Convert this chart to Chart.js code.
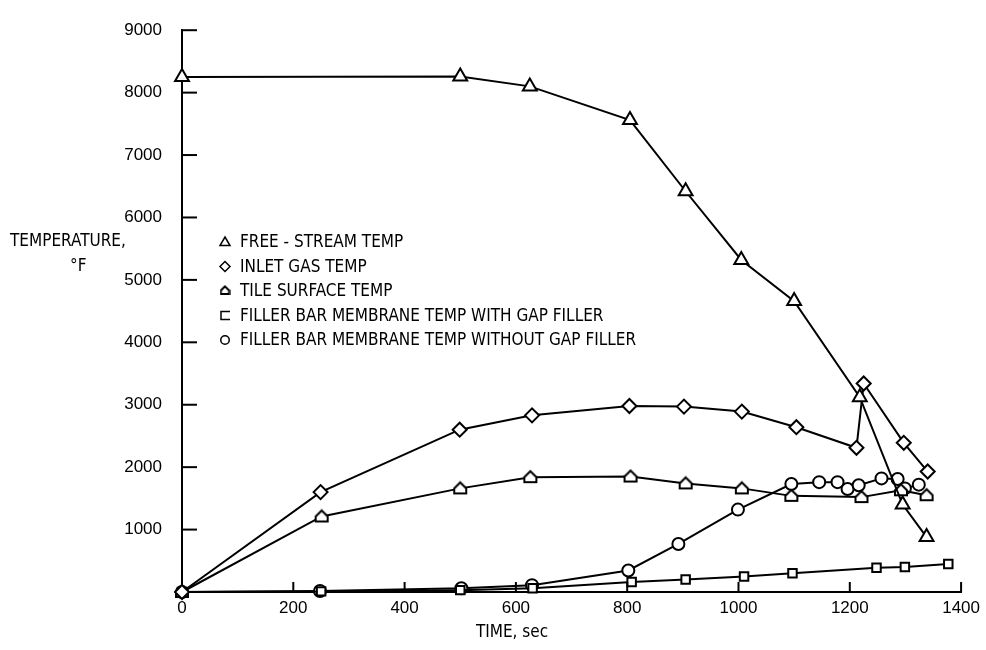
<!DOCTYPE html>
<html>
<head>
<meta charset="utf-8">
<script src="https://cdn.jsdelivr.net/npm/chart.js@4/dist/chart.umd.min.js"></script>
<style>
  html, body { margin: 0; padding: 0; background: #fff; }
  #wrap { width: 986px; height: 650px; }
</style>
</head>
<body>
<div id="wrap"><canvas id="chart" width="986" height="650"></canvas></div>
<script>
// time, sec and temperature, deg F
const freeTime = [0, 500, 625, 805, 905, 1005, 1100, 1218, 1295, 1338];
const freeTemp = [8250, 8260, 8100, 7560, 6420, 5320, 4660, 3120, 1400, 880];

const inletTime = [0, 249, 499, 629, 804, 902, 1006, 1104, 1212, 1225, 1297, 1340];
const inletTemp = [0, 1600, 2600, 2830, 2980, 2970, 2890, 2640, 2310, 3340, 2390, 1930];

const tileTime = [0, 251, 500, 626, 806, 905, 1006, 1095, 1221, 1292, 1338];
const tileTemp = [0, 1210, 1660, 1840, 1850, 1740, 1660, 1540, 1520, 1630, 1550];

const withTime = [0, 250, 500, 630, 808, 905, 1010, 1097, 1248, 1299, 1377];
const withTemp = [0, 10, 30, 60, 160, 200, 250, 300, 390, 400, 450];

const withoutTime = [0, 248, 502, 629, 802, 892, 999, 1095, 1145, 1178, 1196, 1216, 1257, 1286, 1299, 1324];
const withoutTemp = [0, 15, 60, 110, 345, 770, 1320, 1730, 1760, 1760, 1650, 1710, 1820, 1810, 1660, 1720];

const seriesNames = [
    'FREE - STREAM TEMP',
    'INLET GAS TEMP',
    'TILE SURFACE TEMP',
    'FILLER BAR MEMBRANE TEMP WITH GAP FILLER',
    'FILLER BAR MEMBRANE TEMP WITHOUT GAP FILLER'
];

const xTicks = [200, 400, 600, 800, 1000, 1200, 1400];
const yTicks = [1000, 2000, 3000, 4000, 5000, 6000, 7000, 8000, 9000];

const narrow = "'Liberation Sans Narrow', 'DejaVu Sans Condensed', sans-serif";

// little house shaped marker for the tile surface curve
function houseMarker(size) {
    const c = document.createElement('canvas');
    c.width = size; c.height = size;
    const g = c.getContext('2d');
    const m = size / 16;
    g.beginPath();
    g.moveTo(8 * m, 2 * m);
    g.lineTo(14 * m, 8 * m);
    g.lineTo(14 * m, 13 * m);
    g.lineTo(2 * m, 13 * m);
    g.lineTo(2 * m, 8 * m);
    g.closePath();
    g.fillStyle = '#fff';
    g.fill();
    g.lineWidth = 2;
    g.strokeStyle = '#000';
    g.stroke();
    return c;
}

function pts(xs, ys) {
    return xs.map((t, i) => ({x: t, y: ys[i]}));
}

function series(name, xs, ys, style, radius) {
    return {
        label: name,
        data: pts(xs, ys),
        borderColor: '#000',
        borderWidth: 2,
        pointStyle: style,
        pointRadius: radius,
        pointBorderWidth: 2,
        pointBackgroundColor: '#fff',
        pointBorderColor: '#000',
        tension: 0,
        clip: false
    };
}

const tileIcon = houseMarker(16);
const tileIconSmall = houseMarker(11);

function drawMarker(ctx, style, cx, cy, r) {
    ctx.beginPath();
    if (style === 'triangle') {
        ctx.moveTo(cx, cy - r);
        ctx.lineTo(cx + r, cy + r * 0.7);
        ctx.lineTo(cx - r, cy + r * 0.7);
        ctx.closePath();
    } else if (style === 'rectRot') {
        ctx.moveTo(cx, cy - r);
        ctx.lineTo(cx + r, cy);
        ctx.lineTo(cx, cy + r);
        ctx.lineTo(cx - r, cy);
        ctx.closePath();
    } else if (style === 'rect') {
        ctx.moveTo(cx + r, cy - r * 0.8);
        ctx.lineTo(cx - r * 0.8, cy - r * 0.8);
        ctx.lineTo(cx - r * 0.8, cy + r * 0.8);
        ctx.lineTo(cx + r, cy + r * 0.8);
    } else if (style === 'circle') {
        ctx.arc(cx, cy, r * 0.85, 0, Math.PI * 2);
    } else {
        ctx.drawImage(tileIconSmall, cx - 5.5, cy - 6);
        return;
    }
    ctx.stroke();
}

const overlay = {
    id: 'overlay',
    afterDraw(chart) {
        const ctx = chart.ctx;
        const x = chart.scales.x, y = chart.scales.y;
        ctx.save();
        ctx.strokeStyle = '#000';
        ctx.lineWidth = 2;

        // tick marks pointing into the plot
        yTicks.forEach(v => {
            const py = y.getPixelForValue(v);
            ctx.beginPath();
            ctx.moveTo(x.left, py);
            ctx.lineTo(x.left + 15, py);
            ctx.stroke();
        });
        xTicks.forEach(v => {
            const px = x.getPixelForValue(v);
            ctx.beginPath();
            ctx.moveTo(px, y.bottom);
            ctx.lineTo(px, y.bottom - 10);
            ctx.stroke();
        });

        ctx.fillStyle = '#000';
        ctx.font = '17px ' + narrow;
        ctx.textBaseline = 'middle';

        // y axis title, written flat
        ctx.textAlign = 'left';
        ctx.fillText('TEMPERATURE,', 10, 242);
        ctx.fillText('\u00B0F', 70, 267);

        // x axis title
        ctx.textAlign = 'center';
        ctx.fillText('TIME, sec', 512, 633);

        // legend inside the plot
        ctx.textAlign = 'left';
        ctx.lineWidth = 1.5;
        const styles = ['triangle', 'rectRot', 'house', 'rect', 'circle'];
        seriesNames.forEach((name, i) => {
            const ly = 242 + i * 24.5;
            drawMarker(ctx, styles[i], 225, ly, 5);
            ctx.fillText(name, 240, ly + 1);
        });
        ctx.restore();
    }
};

const data = {
    datasets: [
        series(seriesNames[0], freeTime, freeTemp, 'triangle', 8),
        series(seriesNames[1], inletTime, inletTemp, 'rectRot', 7),
        series(seriesNames[2], tileTime, tileTemp, tileIcon, 8),
        series(seriesNames[3], withTime, withTemp, 'rect', 6),
        series(seriesNames[4], withoutTime, withoutTemp, 'circle', 6)
    ]
};

const config = {
    type: 'line',
    data: data,
    options: {
        responsive: false,
        animation: false,
        layout: {
            padding: {top: 19, right: 23, left: 0, bottom: 0}
        },
        plugins: {
            legend: {display: false},
            tooltip: {enabled: false}
        },
        scales: {
            x: {
                type: 'linear',
                min: 0,
                max: 1400,
                grid: {display: false, drawTicks: false},
                border: {display: true, color: '#000', width: 2},
                ticks: {
                    stepSize: 200,
                    padding: 6,
                    color: '#000',
                    maxRotation: 0,
                    font: {family: "'Liberation Sans', Arial, sans-serif", size: 17},
                    callback: function(v) {
                        return String(v);
                    }
                },
                afterFit: function(scale) {
                    scale.height = 58;
                }
            },
            y: {
                min: 0,
                max: 9000,
                grid: {display: false, drawTicks: false},
                border: {display: true, color: '#000', width: 2},
                ticks: {
                    stepSize: 1000,
                    padding: 20,
                    color: '#000',
                    font: {family: "'Liberation Sans', Arial, sans-serif", size: 17},
                    callback: function(v) {
                        return v === 0 ? '' : String(v);
                    }
                },
                afterFit: function(scale) {
                    scale.width = 182;
                }
            }
        }
    },
    plugins: [overlay]
};

new Chart(document.getElementById('chart').getContext('2d'), config);
</script>
</body>
</html>
